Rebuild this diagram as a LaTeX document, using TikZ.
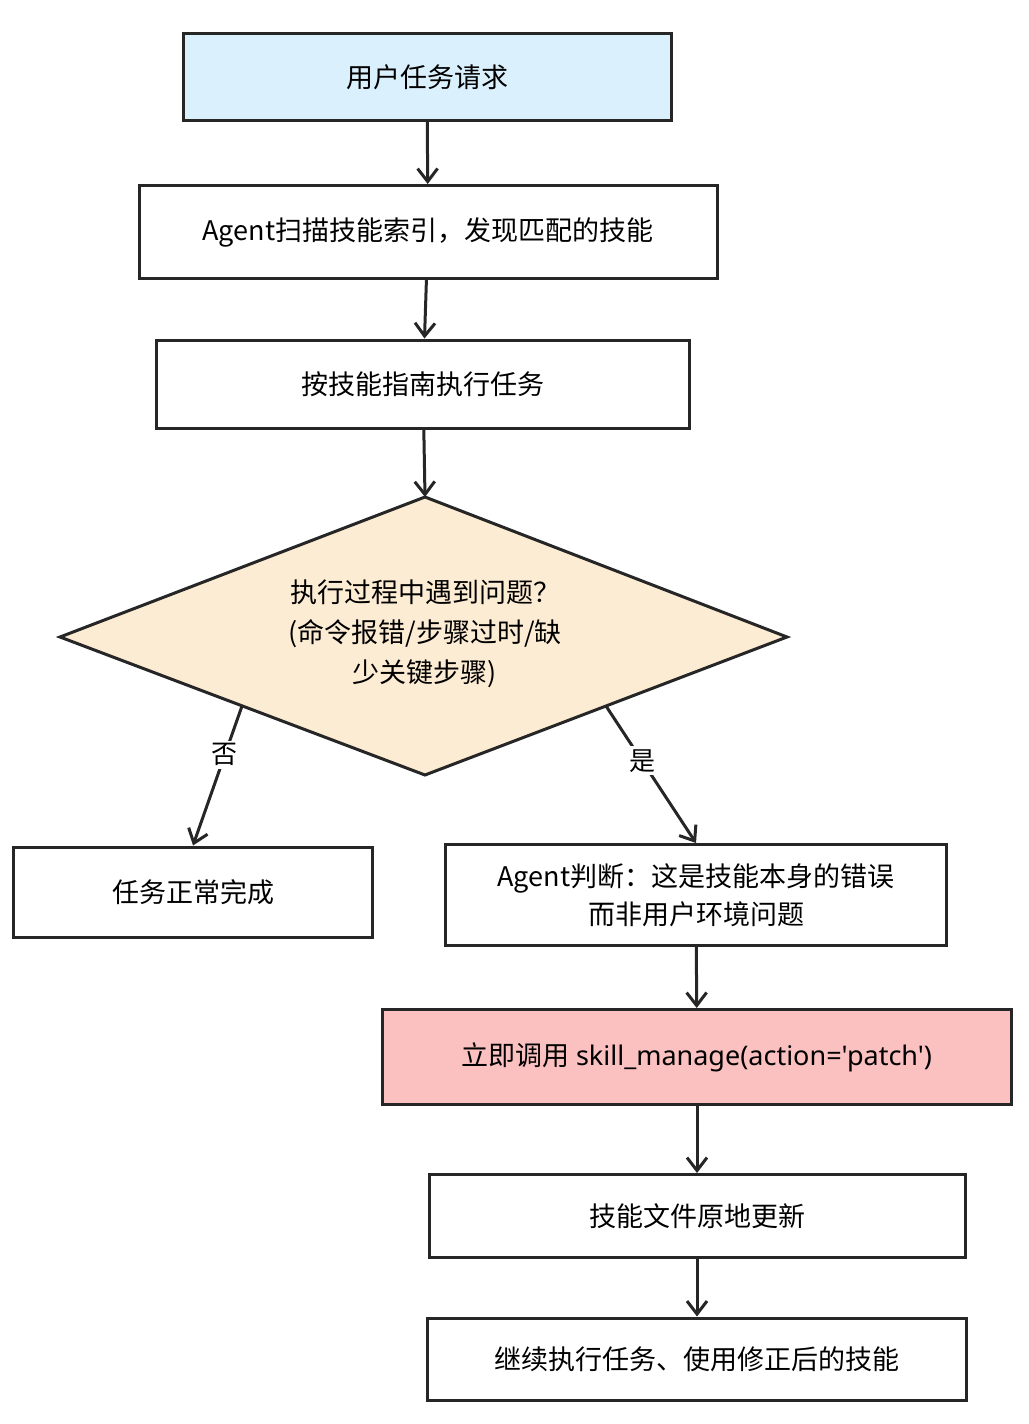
\documentclass[tikz,border=0pt]{standalone}
\usepackage{fontspec}
\setmainfont{Noto Sans CJK SC}
\newfontfamily\lat{Noto Sans}
\usetikzlibrary{shapes.geometric,arrows.meta}
\definecolor{blue1}{HTML}{DBF0FD}
\definecolor{peach}{HTML}{FDECD4}
\definecolor{pink1}{HTML}{FBC0C0}
\begin{document}
\begin{tikzpicture}[x=1pt,y=-1pt,
  box/.style={draw=black!85,line width=3pt,rectangle,align=center,font=\fontsize{27}{38}\selectfont},
  arr/.style={draw=black!85,line width=3pt,-{Straight Barb[length=13pt,width=20pt]}},
  lab/.style={fill=white,font=\fontsize{26}{30}\selectfont,inner sep=3pt}]
\useasboundingbox (0,0) rectangle (1028,1424);
\node[box,fill=blue1,minimum width=488pt,minimum height=87pt] (a) at (427,77) {用户任务请求};
\node[box,minimum width=578pt,minimum height=93pt] (b) at (428,232) {Agent扫描技能索引，发现匹配的技能};
\node[box,minimum width=533pt,minimum height=88pt] (c) at (423,384) {按技能指南执行任务};
\coordinate (dt) at (425,497);
\coordinate (dl) at (60,637);
\coordinate (dr) at (787,637);
\coordinate (db) at (425,775);
\coordinate (dsw) at (242,706);
\coordinate (dse) at (606,706);
\draw[line width=3pt,draw=black!85,fill=peach,line join=miter] (dt) -- (dr) -- (db) -- (dl) -- cycle;
\node[align=center,font=\fontsize{27}{40}\selectfont] (d) at (425,634) {执行过程中遇到问题？\\(命令报错/步骤过时/缺\\少关键步骤)};
\node[box,minimum width=359pt,minimum height=90pt] (n) at (193,892) {任务正常完成};
\node[box,minimum width=501pt,minimum height=101pt] (y) at (696,895) {Agent判断：这是技能本身的错误\\而非用户环境问题};
\node[box,fill=pink1,minimum width=629pt,minimum height=95pt] (p) at (697,1057) {立即调用 {\lat skill\_manage(action='patch')}};
\node[box,minimum width=536pt,minimum height=83pt] (u) at (697,1216) {技能文件原地更新};
\node[box,minimum width=539pt,minimum height=82pt] (k) at (697,1359) {继续执行任务、使用修正后的技能};
\draw[arr] (a) -- (b);
\draw[arr] (b) -- (c);
\draw[arr] (c) -- (dt);
\draw[arr] (dsw) -- node[lab,pos=0.35] {否} (n.north);
\draw[arr] (dse) -- node[lab,pos=0.4] {是} (y.north);
\draw[arr] (y) -- (p);
\draw[arr] (p) -- (u);
\draw[arr] (u) -- (k);
\end{tikzpicture}
\end{document}
